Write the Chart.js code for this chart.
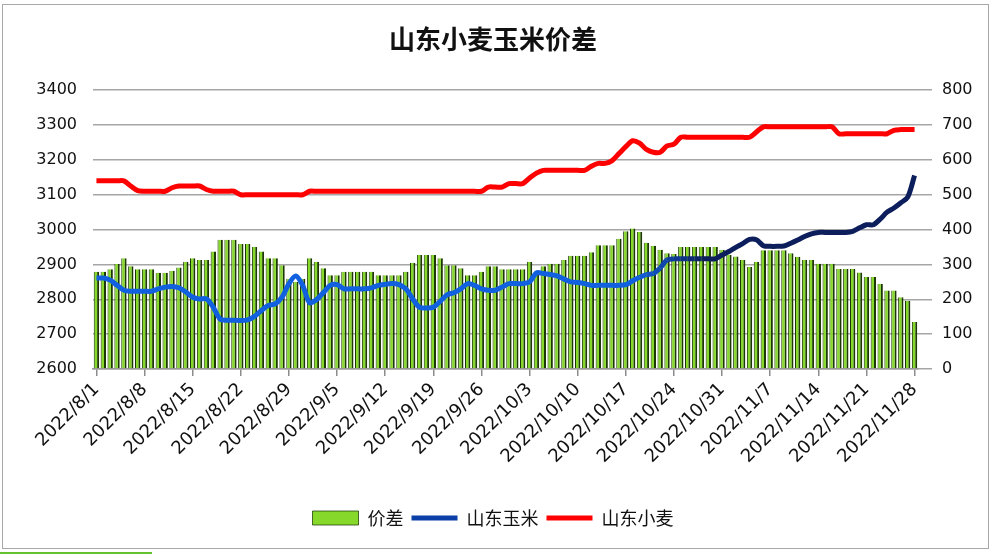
<!DOCTYPE html>
<html>
<head>
<meta charset="utf-8">
<script src="https://cdn.jsdelivr.net/npm/chart.js@4.4.0/dist/chart.umd.min.js"></script>
<style>
  html, body { margin: 0; padding: 0; background: #fff; }
  #wrap { position: relative; width: 1000px; height: 558px; }
  #spreadChart { position: absolute; left: 0; top: 0; }
  #frame { position: absolute; left: 2px; top: 4px; width: 985px; height: 543px; border: 1px solid #a8a8a8; pointer-events: none; }
  #strip { position: absolute; left: 0; top: 552px; width: 152px; height: 2px; background: #63c22e; }
</style>
</head>
<body>
<div id="wrap">
  <canvas id="spreadChart" width="1000" height="558"></canvas>
  <div id="frame"></div>
  <div id="strip"></div>
</div>
<script>
// weekly tick labels shown on the x axis
var tickLabels = ["2022/8/1", "2022/8/8", "2022/8/15", "2022/8/22", "2022/8/29", "2022/9/5",
  "2022/9/12", "2022/9/19", "2022/9/26", "2022/10/3", "2022/10/10", "2022/10/17",
  "2022/10/24", "2022/10/31", "2022/11/7", "2022/11/14", "2022/11/21", "2022/11/28"];

// one category per calendar day, 2022/8/1 .. 2022/11/28
var categories = [];
for (var i = 0; i < 120; i++) {
  var d = new Date(2022, 7, 1 + i);
  categories.push(d.getFullYear() + "/" + (d.getMonth() + 1) + "/" + d.getDate());
}

// 山东小麦 (left axis)
var wheat = [
  3140, 3140, 3140, 3140, 3140, 3125, 3112, 3110, 3110, 3110,
  3110, 3120, 3125, 3125, 3125, 3125, 3115, 3110, 3110, 3110,
  3110, 3100, 3100, 3100, 3100, 3100, 3100, 3100, 3100, 3100,
  3100, 3110, 3110, 3110, 3110, 3110, 3110, 3110, 3110, 3110,
  3110, 3110, 3110, 3110, 3110, 3110, 3110, 3110, 3110, 3110,
  3110, 3110, 3110, 3110, 3110, 3110, 3110, 3122, 3122, 3122,
  3132, 3132, 3132, 3148, 3162, 3170, 3170, 3170, 3170, 3170,
  3170, 3170, 3182, 3190, 3190, 3198, 3218, 3238, 3255, 3248,
  3230, 3222, 3222, 3240, 3245, 3265, 3265, 3265, 3265, 3265,
  3265, 3265, 3265, 3265, 3265, 3265, 3280, 3295, 3295, 3295,
  3295, 3295, 3295, 3295, 3295, 3295, 3295, 3295, 3275, 3275,
  3275, 3275, 3275, 3275, 3275, 3275, 3285, 3287, 3287, 3287
];

// 山东玉米 (left axis)
var corn = [
  2861, 2861, 2855, 2840, 2826, 2823, 2823, 2823, 2823, 2830,
  2835, 2837, 2833, 2821, 2806, 2801, 2801, 2777, 2743, 2740,
  2740, 2739, 2741, 2751, 2768, 2782, 2787, 2806, 2845, 2867,
  2840, 2790, 2799, 2819, 2840, 2842, 2830, 2830, 2830, 2830,
  2833, 2840, 2843, 2845, 2842, 2830, 2801, 2777, 2775, 2777,
  2794, 2813, 2819, 2830, 2845, 2840, 2830, 2826, 2826, 2835,
  2845, 2845, 2845, 2850, 2876, 2874, 2871, 2867, 2858, 2850,
  2848, 2845, 2840, 2840, 2840, 2840, 2840, 2842, 2853, 2863,
  2871, 2874, 2890, 2913, 2916, 2916, 2916, 2916, 2916, 2916,
  2916, 2927, 2937, 2949, 2960, 2972, 2971, 2954, 2952, 2952,
  2953, 2961, 2970, 2980, 2988, 2992, 2992, 2992, 2992, 2992,
  2995, 3005, 3014, 3014, 3030, 3050, 3062, 3077, 3093, 3155
];

// 价差 (right axis)
var spread = [
  279, 279, 286, 301, 318, 295, 286, 286, 286, 276,
  276, 282, 291, 308, 318, 313, 313, 337, 371, 371,
  371, 359, 359, 350, 337, 318, 318, 298, 259, 250,
  259, 318, 308, 289, 269, 269, 279, 279, 279, 279,
  279, 269, 269, 269, 269, 279, 305, 327, 327, 327,
  318, 298, 298, 289, 269, 269, 279, 295, 295, 286,
  286, 286, 286, 308, 280, 295, 302, 302, 313, 325,
  325, 325, 335, 355, 355, 355, 374, 395, 403, 393,
  362, 354, 342, 332, 330, 350, 350, 350, 350, 350,
  350, 342, 328, 323, 313, 293, 308, 341, 341, 341,
  341, 332, 322, 313, 313, 302, 302, 302, 287, 287,
  287, 277, 264, 264, 244, 225, 225, 206, 196, 135
];

// corn line fades from bright blue to navy
function cornColor(idx) {
  var t = Math.min(1, Math.max(0, (idx - 78) / 10));
  var r = Math.round(16 + (12 - 16) * t);
  var g = Math.round(96 + (30 - 96) * t);
  var b = Math.round(224 + (92 - 224) * t);
  return "rgb(" + r + "," + g + "," + b + ")";
}

var axisFont = { family: "DejaVu Sans", size: 16 };

var ctx = document.getElementById("spreadChart").getContext("2d");
var spreadChart = new Chart(ctx, {
  data: {
    labels: categories,
    datasets: [
      {
        type: "bar",
        label: "价差",
        data: spread,
        yAxisID: "y1",
        order: 3,
        backgroundColor: "#86d92a",
        borderColor: "#1c3805",
        borderWidth: { top: 0, right: 2, bottom: 0, left: 1 },
        borderSkipped: false,
        barPercentage: 0.78,
        categoryPercentage: 1.0,
        pointStyle: "rect",
      },
      {
        type: "line",
        label: "山东玉米",
        data: corn,
        yAxisID: "y",
        order: 1,
        borderColor: "#0b3fa8",
        backgroundColor: "#0b3fa8",
        borderWidth: 5,
        pointRadius: 0,
        pointStyle: "line",
        tension: 0.3,
        segment: {
          borderColor: function (c) { return cornColor(c.p0DataIndex); },
        },
      },
      {
        type: "line",
        label: "山东小麦",
        data: wheat,
        yAxisID: "y",
        order: 2,
        borderColor: "#ff0000",
        backgroundColor: "#ff0000",
        borderWidth: 5,
        pointRadius: 0,
        pointStyle: "line",
        tension: 0.3,
      },
    ],
  },
  options: {
    responsive: false,
    animation: false,
    layout: { padding: { left: 0, right: 14, top: 10, bottom: 21 } },
    plugins: {
      title: {
        display: true,
        text: "山东小麦玉米价差",
        color: "#111",
        font: { family: "Noto Sans CJK SC", size: 26, weight: "bold" },
        padding: { top: 14, bottom: 35 },
      },
      legend: {
        position: "bottom",
        labels: {
          usePointStyle: true,
          pointStyleWidth: 46,
          boxHeight: 14,
          color: "#111",
          padding: 8,
          font: { family: "Noto Sans CJK SC", size: 18 },
          sort: function (a, b) { return a.datasetIndex - b.datasetIndex; },
        },
      },
      tooltip: { enabled: false },
    },
    scales: {
      x: {
        offset: true,
        afterFit: function (s) { s.height = 132; },
        grid: {
          offset: false,
          drawOnChartArea: false,
          drawTicks: true,
          tickLength: 7,
          lineWidth: 1.5,
          color: function (c) {
            return tickLabels.indexOf(categories[c.index]) >= 0 ? "#8c8c8c" : "rgba(0,0,0,0)";
          },
        },
        border: { display: true, color: "#9a9a9a", width: 1.5 },
        ticks: {
          autoSkip: false,
          maxRotation: 45,
          minRotation: 45,
          color: "#111",
          font: { family: "DejaVu Sans", size: 18 },
          callback: function (v, idx) {
            return tickLabels.indexOf(categories[idx]) >= 0 ? categories[idx] : "";
          },
        },
      },
      y: {
        position: "left",
        min: 2600,
        max: 3400,
        afterFit: function (s) { s.width = 93; },
        grid: { color: "#a6a6a6", lineWidth: 1.5, drawTicks: false },
        border: { display: false },
        ticks: {
          stepSize: 100,
          padding: 16,
          color: "#111",
          font: axisFont,
          callback: function (v) { return String(v); },
        },
      },
      y1: {
        position: "right",
        min: 0,
        max: 800,
        afterFit: function (s) { s.width = 68; },
        grid: { drawOnChartArea: false, drawTicks: true, tickLength: 14, color: "#a6a6a6", lineWidth: 1.5 },
        border: { display: false },
        ticks: {
          stepSize: 100,
          padding: 10,
          color: "#111",
          font: axisFont,
          callback: function (v) { return String(v); },
        },
      },
    },
  },
});
</script>
</body>
</html>
